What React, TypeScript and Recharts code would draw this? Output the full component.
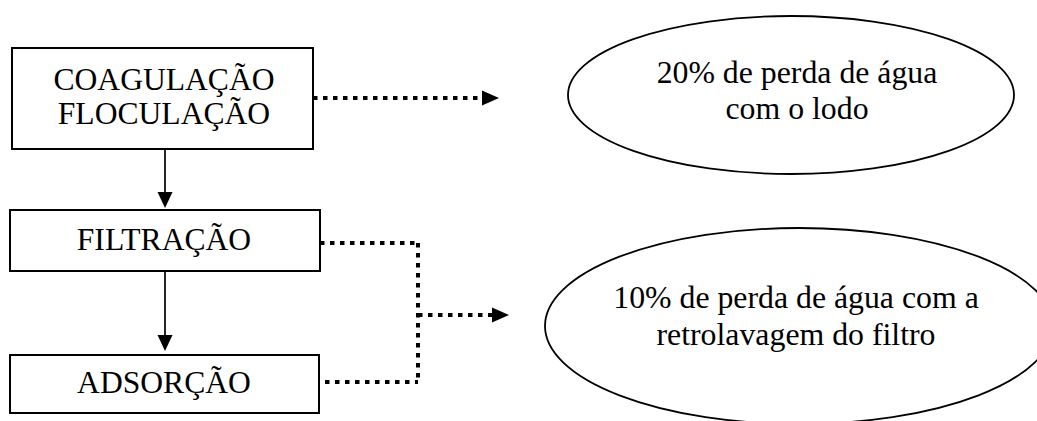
import React from "react";
import { ScatterChart, XAxis, YAxis, Scatter, ReferenceArea, ReferenceLine } from "recharts";

const W = 1037;
const H = 421;

// ---- content ----
const stepLabels: string[][] = [["COAGULAÇÃO", "FLOCULAÇÃO"], ["FILTRAÇÃO"], ["ADSORÇÃO"]];
const lossLabels: string[][] = [
  ["20% de perda de água", "com o lodo"],
  ["10% de perda de água com a", "retrolavagem do filtro"],
];

// ---- layout (diagram coordinates, mapped by the chart scales) ----
const stepX1 = [12, 10, 10];
const stepX2 = [313, 320, 319];
const stepY1 = [48, 210, 355];
const stepY2 = [149, 271, 413];
const stepTextX = [164, 164, 164];
const stepTextY = [90, 250, 393];

const lossCX = [791, 799];
const lossCY = [95, 326];
const lossRX = [223, 254];
const lossRY = [79, 98];
const lossTextX = [797, 796];
const lossTextY = [83, 308];
const lossLineGap = [36, 37];

const solidLinks = [
  { x1: 165, y1: 149, x2: 165, y2: 194 },
  { x1: 165, y1: 271, x2: 165, y2: 337 },
];
const dottedLinks = [
  { x1: 313, y1: 98, x2: 483, y2: 98 },
  { x1: 320, y1: 243, x2: 418, y2: 243 },
  { x1: 418, y1: 243, x2: 418, y2: 383 },
  { x1: 325, y1: 382, x2: 418, y2: 382 },
  { x1: 418, y1: 315, x2: 492, y2: 315 },
];
const arrowTips = [
  { x: 165, y: 208, dir: "down" },
  { x: 165, y: 351, dir: "down" },
  { x: 499, y: 98, dir: "right" },
  { x: 509, y: 315, dir: "right" },
];

const stepTable = stepLabels.map((lines, i) => ({ x: stepTextX[i], y: stepTextY[i], lines, gap: 34 }));
const lossTable = lossLabels.map((lines, i) => ({ x: lossTextX[i], y: lossTextY[i], lines, gap: lossLineGap[i] }));

const FONT = "'Liberation Serif', 'Times New Roman', serif";

const makeText = (fontSize: number) => (props: any) => {
  const { cx, cy, payload } = props;
  return (
    <text x={cx} y={cy} textAnchor="middle" fontFamily={FONT} fontSize={fontSize} fill="#000">
      {payload.lines.map((l: string, i: number) => (
        <tspan key={i} x={cx} y={cy + i * payload.gap}>
          {l}
        </tspan>
      ))}
    </text>
  );
};

const ArrowHead = (props: any) => {
  const { cx, cy, payload } = props;
  const len = payload.dir === "down" ? 16 : 17;
  const half = 7.5;
  const pts =
    payload.dir === "down"
      ? `${cx},${cy} ${cx - half},${cy - len} ${cx + half},${cy - len}`
      : `${cx},${cy} ${cx - len},${cy - half} ${cx - len},${cy + half}`;
  return <polygon points={pts} fill="#000" stroke="none" />;
};

const EllipseShape = (p: any) => (
  <ellipse
    cx={p.x + p.width / 2}
    cy={p.y + p.height / 2}
    rx={Math.abs(p.width) / 2}
    ry={Math.abs(p.height) / 2}
    fill="none"
    stroke="#000"
    strokeWidth={1.8}
  />
);

export default function App() {
  return (
    <div style={{ position: "absolute", left: 0, top: 0, width: W, height: H, background: "#fff" }}>
      <ScatterChart width={W} height={H} margin={{ top: 0, right: 0, bottom: 0, left: 0 }}>
        <XAxis type="number" dataKey="x" domain={[0, W]} allowDataOverflow hide />
        <YAxis type="number" dataKey="y" domain={[0, H]} allowDataOverflow reversed hide />

        {stepLabels.map((_, i) => (
          <ReferenceArea
            key={`box${i}`}
            x1={stepX1[i]}
            x2={stepX2[i]}
            y1={stepY1[i]}
            y2={stepY2[i]}
            fill="none"
            stroke="#000"
            strokeWidth={2}
            ifOverflow="visible"
          />
        ))}

        {lossLabels.map((_, i) => (
          <ReferenceArea
            key={`ell${i}`}
            x1={lossCX[i] - lossRX[i]}
            x2={lossCX[i] + lossRX[i]}
            y1={lossCY[i] - lossRY[i]}
            y2={lossCY[i] + lossRY[i]}
            ifOverflow="visible"
            shape={EllipseShape}
          />
        ))}

        {solidLinks.map((s, i) => (
          <ReferenceLine
            key={`sl${i}`}
            segment={[
              { x: s.x1, y: s.y1 },
              { x: s.x2, y: s.y2 },
            ]}
            stroke="#000"
            strokeWidth={1.7}
            ifOverflow="visible"
          />
        ))}

        {dottedLinks.map((s, i) => (
          <ReferenceLine
            key={`dl${i}`}
            segment={[
              { x: s.x1, y: s.y1 },
              { x: s.x2, y: s.y2 },
            ]}
            stroke="#000"
            strokeWidth={4}
            strokeDasharray="4.5 5.5"
            ifOverflow="visible"
          />
        ))}

        <Scatter data={arrowTips} shape={ArrowHead} isAnimationActive={false} />
        <Scatter data={stepTable} shape={makeText(31.6)} isAnimationActive={false} />
        <Scatter data={lossTable} shape={makeText(31.8)} isAnimationActive={false} />
      </ScatterChart>
    </div>
  );
}
